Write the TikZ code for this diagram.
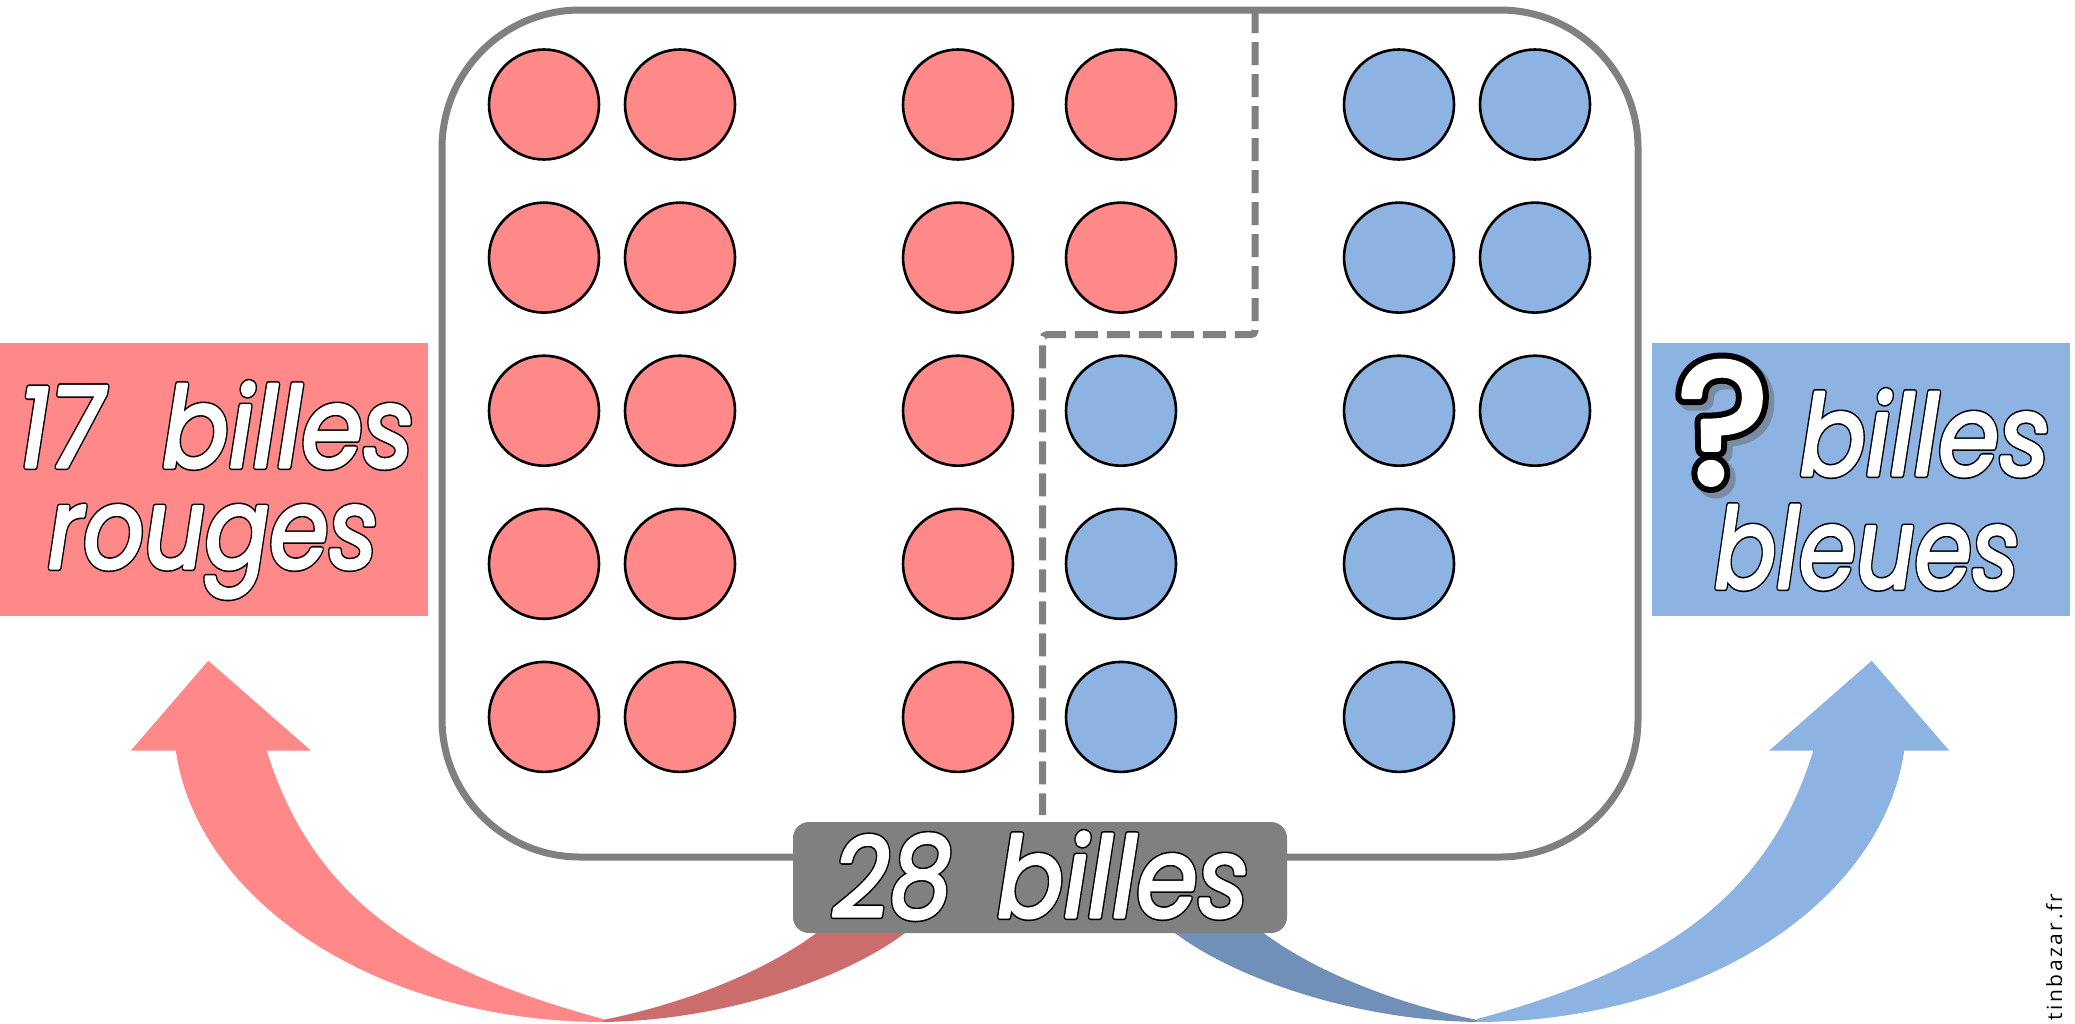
\documentclass[tikz,border=0pt]{standalone}
\usepackage{graphicx}
\usepackage{fontspec}
\setmainfont{Poppins}
\newfontfamily\wmfont{Open Sans}[LetterSpace=12]
\definecolor{redball}{RGB}{255,136,136}
\definecolor{blueball}{RGB}{141,179,226}
\definecolor{redback}{RGB}{204,109,109}
\definecolor{blueback}{RGB}{112,144,184}
\definecolor{framegrey}{RGB}{128,128,128}
% text filled and stroked (PDF text render mode 2): #1 line width, #2 stroke rgb, #3 text
\newcommand\strk[3]{\special{pdf:literal direct #2 RG 2 Tr #1 w 1 j}#3\special{pdf:literal direct 0 Tr 0 0 0 RG}}
\tikzset{
  ball/.style={circle, draw=black, line width=1.3pt, minimum size=55pt, inner sep=0pt},
  rball/.style={ball, fill=redball},
  bball/.style={ball, fill=blueball},
  sidebox/.style={rectangle, inner sep=0pt, minimum height=136.5pt},
  labelbox/.style={rectangle, fill=framegrey, rounded corners=8pt, minimum width=247pt, minimum height=55.5pt, inner sep=0pt},
  bigtext/.style={font=\fontsize{56}{60}\selectfont\itshape, text=white, inner sep=0pt, anchor=base},
  bigoutline/.style={bigtext, text=black},
  qtext/.style={font=\fontsize{86}{90}\selectfont, inner sep=0pt, anchor=base},
  frameline/.style={draw=framegrey, line width=3.5pt},
  dashline/.style={draw=framegrey, line width=3.5pt, dash pattern=on 11.5pt off 4.5pt, rounded corners=2pt},
  pics/carrow/.style 2 args={code={
    \fill[#2] (600,1020.5) .. controls (690,1003) and (770,968) .. (816.7,932.7)
      -- (870,895) -- (960,895) -- (905,933)
      .. controls (850,975) and (730,1021) .. (600,1022) -- cycle;
    \fill[#1] (266.7,750.7) -- (311,750.7) -- (208.3,660.7) -- (130.7,750.7) -- (175.7,750.7)
      -- plot[domain=174.16:90, samples=40, variable=\t] ({603+429.5*cos(\t)},{720+302*sin(\t)})
      -- (603,1019) .. controls (418,969) and (312.3,897.7) .. (266.7,750.7)
      -- cycle;
  }}
}
\begin{document}
\begin{tikzpicture}[x=0.5pt, y=-0.5pt]
\useasboundingbox (0,0) rectangle (2075,1023);
% curved arrows
\pic at (0,0) {carrow={redball}{redback}};
\pic[xscale=-1] at (2080,0) {carrow={blueball}{blueback}};
% main frame
\draw[frameline, rounded corners=69pt] (442,10) rectangle (1638,857);
% dashed separation
\coordinate (d0) at (1255,10);
\coordinate (d1) at (1255,334.7);
\coordinate (d2) at (1042.7,334.7);
\coordinate (d3) at (1042.7,815);
\draw[dashline] (d0) -- (d1) -- (d2) -- (d3);
% marbles
\foreach \x [count=\i] in {544,680,958}
  \foreach \y [count=\j] in {104.5,257.6,410.7,563.8,716.9}
    \node[rball] (r\i\j) at (\x,\y) {};
\node[rball] (r41) at (1121,104.5) {};
\node[rball] (r42) at (1121,257.6) {};
\foreach \y [count=\j from 3] in {410.7,563.8,716.9}
  \node[bball] (b4\j) at (1121,\y) {};
\foreach \y [count=\j] in {104.5,257.6,410.7,563.8,716.9}
  \node[bball] (b5\j) at (1399,\y) {};
\foreach \y [count=\j] in {104.5,257.6,410.7}
  \node[bball] (b6\j) at (1535,\y) {};
% side boxes
\node[sidebox, fill=redball, minimum width=214pt] (redbox) at (214,479.5) {};
\node[sidebox, fill=blueball, minimum width=209pt] (bluebox) at (1861,479.5) {};
% texts: black outline copy under the white (slightly emboldened) text
\node[bigoutline] (tr1o) at (216,467) {\scalebox{0.88}[1]{\strk{3.1}{0 0 0}{17\hspace{0.6em}billes}}};
\node[bigtext] (tr1) at (216,467) {\scalebox{0.88}[1]{\strk{1.5}{1 1 1}{17\hspace{0.6em}billes}}};
\node[bigoutline] (tr2o) at (213,568) {\scalebox{0.85}[1]{\strk{3.1}{0 0 0}{rouges}}};
\node[bigtext] (tr2) at (213,568) {\scalebox{0.85}[1]{\strk{1.5}{1 1 1}{rouges}}};
\node[bigoutline] (tb1o) at (1925,475) {\scalebox{0.875}[1]{\strk{3.1}{0 0 0}{billes}}};
\node[bigtext] (tb1) at (1925,475) {\scalebox{0.875}[1]{\strk{1.5}{1 1 1}{billes}}};
\node[bigoutline] (tb2o) at (1867,588) {\scalebox{0.82}[1]{\strk{3.1}{0 0 0}{bleues}}};
\node[bigtext] (tb2) at (1867,588) {\scalebox{0.82}[1]{\strk{1.5}{1 1 1}{bleues}}};
\node[qtext, text=black!60, opacity=0.5] (qs) at (1728,488) {\strk{9.5}{0.4 0.4 0.4}{?}};
\node[qtext, text=black] (qo) at (1723,483) {\strk{9}{0 0 0}{?}};
\node[qtext, text=white] (q) at (1723,483) {\strk{3}{1 1 1}{?}};
% total label
\node[labelbox] (total) at (1040,877.5) {};
\node[bigoutline] (totalo) at (1041,917) {\scalebox{0.88}[1]{\strk{3.1}{0 0 0}{28\hspace{0.46em}billes}}};
\node[bigtext] (totaltext) at (1041,917) {\scalebox{0.88}[1]{\strk{1.5}{1 1 1}{28\hspace{0.46em}billes}}};
% watermark
\node[rotate=90, font=\wmfont\fontsize{10.5}{12}\selectfont, inner sep=0pt, anchor=base] (wm) at (2062,957) {\special{pdf:literal direct 0 Tr}tinbazar.fr};
\end{tikzpicture}
\end{document}
